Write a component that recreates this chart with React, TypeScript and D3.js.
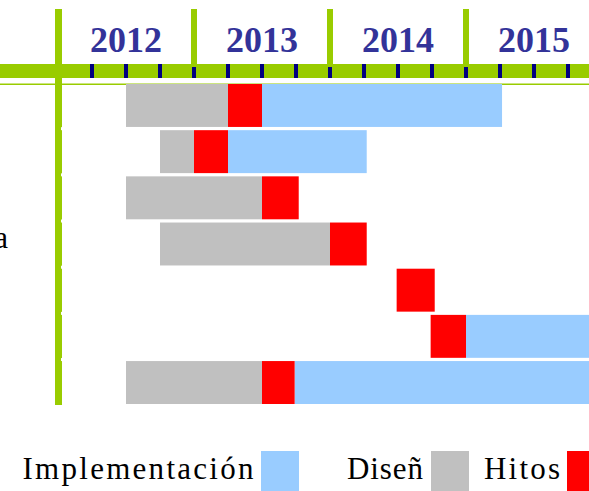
import React from "react";
import * as d3 from "d3";

// rows of the gantt, top to bottom (only the 4th label reaches into view)
const tasks = ["t1", "t2", "t3", "t4", "t5", "t6", "t7"];
const taskLabels = ["", "", "", "Fase de prueba", "", "", ""];

const years = [2012, 2013, 2014, 2015];

// [start, end] as decimal years, null when the row has no such phase
const diseno: ([number, number] | null)[] = [
  [2012.5, 2013.25],
  [2012.75, 2013.0],
  [2012.5, 2013.5],
  [2012.75, 2014.0],
  null,
  null,
  [2012.5, 2013.5],
];
const hitos: ([number, number] | null)[] = [
  [2013.25, 2013.5],
  [2013.0, 2013.25],
  [2013.5, 2013.77],
  [2014.0, 2014.27],
  [2014.49, 2014.77],
  [2014.74, 2015.0],
  [2013.5, 2013.74],
];
const implementacion: ([number, number] | null)[] = [
  [2013.5, 2015.265],
  [2013.25, 2014.27],
  null,
  null,
  null,
  [2015.0, 2016.3],
  [2013.74, 2016.3],
];

const legendItems = [
  { label: "Implementación", color: "#99CCFF", x: 22.5, len: 231, box: 261 },
  { label: "Diseñ", color: "#C0C0C0", x: 347, len: 76, box: 431 },
  { label: "Hitos", color: "#FF0000", x: 484, len: 76, box: 567 },
];

const W = 589;
const H = 491;
const GREEN = "#99CC00";
const SERIF = "'Liberation Serif', 'Times New Roman', Times, serif";

const App: React.FC = () => {
  const x = d3.scaleLinear().domain([2012, 2016]).range([58, 602]);
  const y = d3.scaleBand<string>().domain(tasks).range([84, 404]).paddingInner(0.07);

  const quarters = d3.range(2012, 2016, 0.25).filter((q) => q > 2012);

  const bars = (ranges: ([number, number] | null)[], color: string, key: string) =>
    ranges.map((r, i) =>
      r ? (
        <rect
          key={key + i}
          x={x(r[0])}
          y={y(tasks[i])}
          width={x(r[1]) - x(r[0])}
          height={y.bandwidth()}
          fill={color}
        />
      ) : null
    );

  return (
    <svg width={W} height={H} style={{ position: "absolute", left: 0, top: 0, background: "#fff" }}>
      {/* time axis band */}
      <rect x={0} y={64} width={W} height={14} fill={GREEN} />
      {quarters.map((q) => {
        const yearStart = Math.abs(q - Math.round(q)) < 1e-6;
        return (
          <rect
            key={q}
            x={x(q) - 2}
            y={yearStart ? 67 : 64}
            width={4}
            height={yearStart ? 11 : 14}
            fill="#000080"
          />
        );
      })}
      <rect x={0} y={83.5} width={W} height={1.5} fill={GREEN} />

      {/* year dividers and labels */}
      {years.map((yr) => (
        <g key={yr}>
          <rect x={x(yr) - 3} y={9} width={6} height={55} fill={GREEN} />
          <text
            x={x(yr + 0.5)}
            y={52}
            textAnchor="middle"
            fontFamily={SERIF}
            fontWeight="bold"
            fontSize={36}
            fill="#333399"
          >
            {yr}
          </text>
        </g>
      ))}
      <rect x={55} y={9} width={7} height={396} fill={GREEN} />
      {tasks.slice(1).map((t) => (
        <rect key={t} x={61} y={(y(t) as number) - 3} width={1.5} height={3} fill="#fff" />
      ))}

      {/* row labels */}
      {taskLabels.map((l, i) => (
        <text
          key={"l" + i}
          x={8}
          y={(y(tasks[i]) as number) + y.bandwidth() / 2 + 4}
          textAnchor="end"
          fontFamily={SERIF}
          fontSize={31}
          fill="#000"
        >
          {l}
        </text>
      ))}

      {bars(diseno, "#C0C0C0", "d")}
      {bars(implementacion, "#99CCFF", "i")}
      {bars(hitos, "#FF0000", "h")}

      {/* legend */}
      {legendItems.map((it) => (
        <g key={it.label}>
          <text
            x={it.x}
            y={479}
            fontFamily={SERIF}
            fontSize={31}
            textLength={it.len}
            lengthAdjust="spacing"
            fill="#000"
          >
            {it.label}
          </text>
          <rect x={it.box} y={451} width={38} height={40} fill={it.color} />
        </g>
      ))}
    </svg>
  );
};

export default App;
